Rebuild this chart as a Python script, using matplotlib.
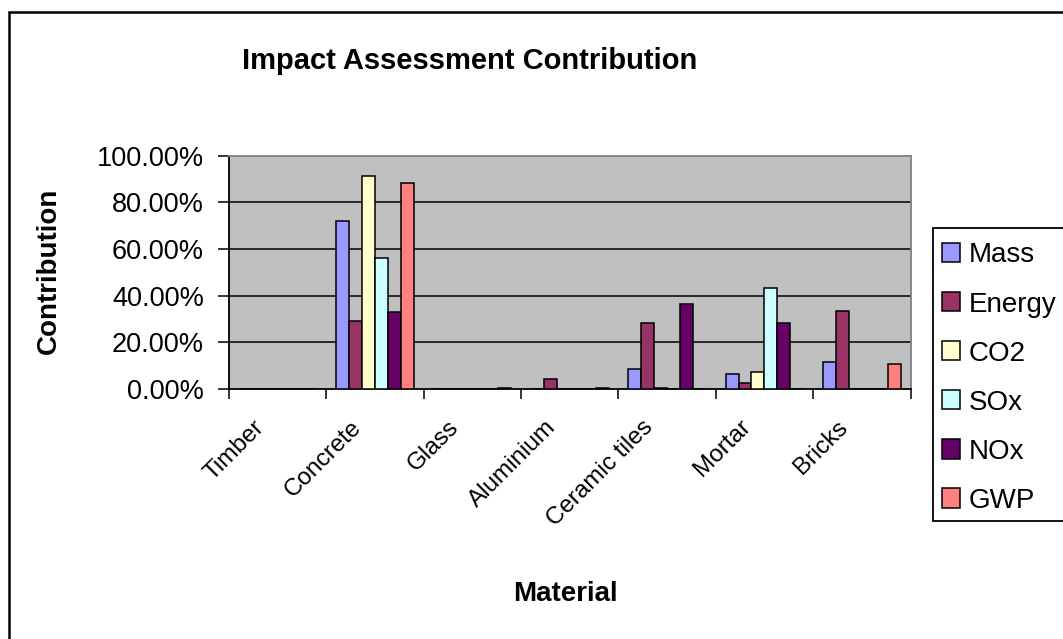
import matplotlib
matplotlib.use("Agg")
import matplotlib.pyplot as plt
import matplotlib.transforms as mtransforms
from matplotlib.patches import Rectangle, Patch
import numpy as np

# ---- data ----
categories = ['Timber', 'Concrete', 'Glass', 'Aluminium', 'Ceramic tiles', 'Mortar', 'Bricks']
series_names = ['Mass', 'Energy', 'CO2', 'SOx', 'NOx', 'GWP']
mass = [0, 72.1, 0, 0, 8.4, 6.4, 11.4]
energy = [0, 29.1, 0, 4.4, 28.4, 2.4, 33.4]
co2 = [0, 91.2, 0, 0, 0.6, 7.4, 0]
sox = [0, 56.2, 0, 0, 0, 43.4, 0]
nox = [0, 33.1, 0, 0, 36.4, 28.4, 0]
gwp = [0, 88.1, 0.6, 0.6, 0, 0, 10.6]
yticks = [0, 20, 40, 60, 80, 100]
ytick_labels = ['0.00%', '20.00%', '40.00%', '60.00%', '80.00%', '100.00%']
colors = ['#9999FF', '#993366', '#FFFFCC', '#CCFFFF', '#660066', '#FF8080']

plt.rcParams['font.family'] = ['Liberation Sans', 'DejaVu Sans']

W, H = 1063, 639
fig = plt.figure(figsize=(W / 100, H / 100), dpi=100)
fig.patch.set_facecolor('white')

# plot area in pixels
L, R, T, B = 229, 910.5, 155.7, 389
ax = fig.add_axes([L / W, 1 - B / H, (R - L) / W, (B - T) / H])
ax.set_facecolor('#C0C0C0')

x = np.arange(len(categories))
series = [mass, energy, co2, sox, nox, gwp]
bw = 0.8 / len(series)
for j, (vals, c) in enumerate(zip(series, colors)):
    ax.bar(x + (j - 2.5) * bw, vals, width=bw, color=c, edgecolor='black',
           linewidth=1.1, zorder=3)

ax.set_xlim(-0.5, len(categories) - 0.5)
ax.set_ylim(0, 100)
ax.set_yticks(yticks)
ax.set_yticklabels(ytick_labels, fontsize=19.5)
for yv in yticks[1:-1]:
    ax.axhline(yv, color='black', linewidth=1.1, zorder=1)

ax.tick_params(axis='y', direction='out', length=8, width=1.1, pad=10, colors='black')
ax.set_xticks(x)
ax.set_xticks(np.arange(-0.5, len(categories)), minor=True)
ax.set_xticklabels(categories, fontsize=17.5, rotation=45, ha='right', va='center',
                   rotation_mode='anchor')
ax.tick_params(axis='x', which='major', length=0, pad=25)
ax.tick_params(axis='x', which='minor', direction='out', length=7, width=1.1)
offset = mtransforms.ScaledTranslation(-17 / 100, 0, fig.dpi_scale_trans)
for lab in ax.get_xticklabels():
    lab.set_transform(lab.get_transform() + offset)

for s in ['left', 'bottom']:
    ax.spines[s].set_color('black')
    ax.spines[s].set_linewidth(1.3)
for s in ['top', 'right']:
    ax.spines[s].set_color('#808080')
    ax.spines[s].set_linewidth(1.3)

ax.set_ylabel('Contribution', fontsize=20, fontweight='bold')
ax.yaxis.set_label_coords((62 - L) / (R - L), (B - 271) / (B - T))
ax.set_xlabel('Material', fontsize=20, fontweight='bold', va='center')
ax.xaxis.set_label_coords((565 - L) / (R - L), (B - 594) / (B - T))

fig.text(470 / W, 1 - 61 / H, 'Impact Assessment Contribution', ha='center', va='center',
         fontsize=21, fontweight='bold')

# legend frame (box runs off the right edge, as in the original)
fig.patches.append(Rectangle((933 / W, 1 - 521 / H), 0.2, (521 - 228) / H,
                             transform=fig.transFigure, facecolor='white',
                             edgecolor='black', linewidth=1.3, zorder=1))
handles = [Patch(facecolor=c, edgecolor='black', linewidth=1.1) for c in colors]
leg = fig.legend(handles, series_names, loc='upper left',
                 bbox_to_anchor=(929 / W, 1 - 230 / H), borderaxespad=0,
                 fontsize=20, handlelength=0.68, handleheight=0.68, handletextpad=0.3,
                 labelspacing=0.83, borderpad=0.45, frameon=False)

# outer chart border
fig.patches.append(Rectangle((9 / W, -0.05), 1.2, 1 - 12 / H + 0.05, transform=fig.transFigure,
                             fill=False, edgecolor='black', linewidth=1.8))

fig.savefig('out.png', dpi=100)
